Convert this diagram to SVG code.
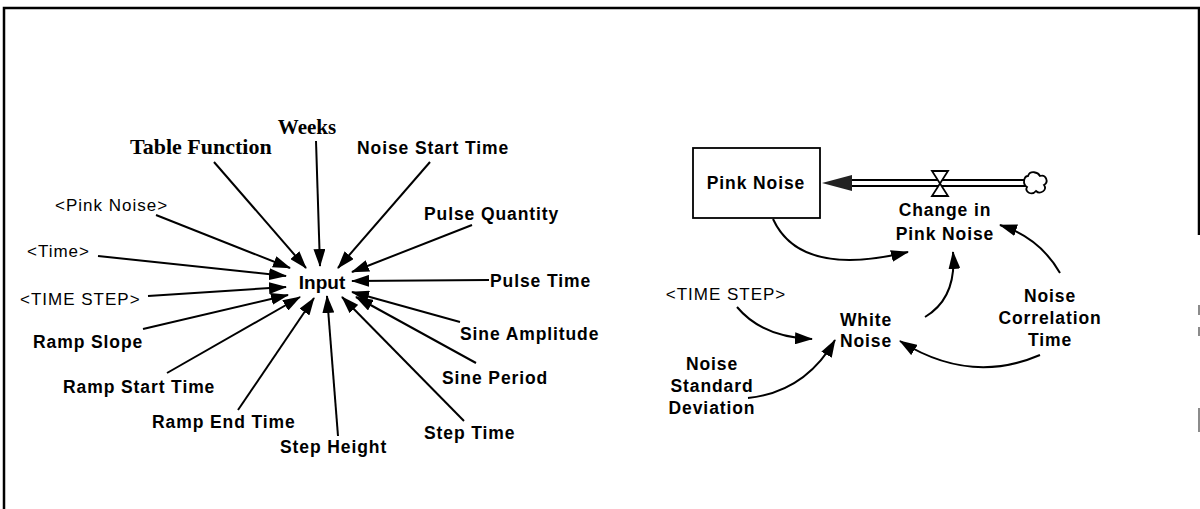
<svg xmlns="http://www.w3.org/2000/svg" width="1200" height="509" viewBox="0 0 1200 509">
<defs>
<style>
.b{font-family:"Liberation Sans",Arial,sans-serif;font-weight:bold;font-size:17.5px;letter-spacing:0.9px;fill:#000}
.n{font-family:"Liberation Sans",Arial,sans-serif;font-size:17px;letter-spacing:1px;fill:#000}
.t{font-family:"Liberation Serif","Times New Roman",serif;font-weight:bold;font-size:21px;fill:#000}
.c{fill:none;stroke:#000;stroke-width:2;marker-end:url(#ah)}
.frame{stroke:#000;stroke-width:2.5;fill:none}
</style>
<marker id="ah" markerUnits="userSpaceOnUse" markerWidth="18" markerHeight="12" refX="17" refY="6" orient="auto">
<path d="M0,0 L18,6 L0,12 Z" fill="#000"/>
</marker>
</defs>
<rect width="1200" height="509" fill="#fff"/>
<g id="frame">
<path class="frame" d="M4,509 L4,8 L1199,8 L1199,235"/>
<path d="M1199,305 V315 M1199,327 V336 M1199,408 V432" stroke="#666" stroke-width="1.5"/>
</g>
<g id="connectors">
<line class="c" x1="316" y1="141" x2="320" y2="266"/>
<line class="c" x1="214" y1="162" x2="306" y2="268"/>
<line class="c" x1="430" y1="162" x2="338" y2="268"/>
<line class="c" x1="472" y1="225" x2="352" y2="272"/>
<line class="c" x1="156" y1="215" x2="290" y2="268"/>
<line class="c" x1="98" y1="256" x2="286" y2="276"/>
<line class="c" x1="489" y1="280" x2="352" y2="281"/>
<line class="c" x1="148" y1="296" x2="286" y2="287"/>
<line class="c" x1="143" y1="329" x2="288" y2="295"/>
<line class="c" x1="460" y1="322" x2="352" y2="292"/>
<line class="c" x1="167" y1="373" x2="300" y2="297"/>
<line class="c" x1="476" y1="363" x2="356" y2="297"/>
<line class="c" x1="238" y1="410" x2="314" y2="298"/>
<line class="c" x1="464" y1="421" x2="342" y2="297"/>
<line class="c" x1="338" y1="436" x2="327" y2="296"/>
<path class="c" d="M773,219 Q800,278 908,252"/>
<path class="c" d="M925,317 Q957,298 953,252"/>
<path class="c" d="M1060,273 Q1040,238 1000,225"/>
<path class="c" d="M737,307 Q762,337 812,339"/>
<path class="c" d="M748,398 Q805,392 835,340"/>
<path class="c" d="M1040,355 Q970,385 900,341"/>
</g>
<g id="input"><text class="b" x="322" y="289" text-anchor="middle" style="font-size:19px;letter-spacing:0">Input</text></g>
<g id="weeks"><text class="t" x="307" y="134" text-anchor="middle">Weeks</text></g>
<g id="table-function"><text class="t" x="130" y="154" style="font-size:22px">Table Function</text></g>
<g id="noise-start-time"><text class="b" x="357" y="154">Noise Start Time</text></g>
<g id="pink-noise-ref"><text class="n" x="55" y="211">&lt;Pink Noise&gt;</text></g>
<g id="pulse-quantity"><text class="b" x="424" y="220">Pulse Quantity</text></g>
<g id="time-ref"><text class="n" x="27" y="257">&lt;Time&gt;</text></g>
<g id="pulse-time"><text class="b" x="490" y="287">Pulse Time</text></g>
<g id="time-step-ref"><text class="n" x="20" y="305">&lt;TIME STEP&gt;</text></g>
<g id="ramp-slope"><text class="b" x="33" y="348">Ramp Slope</text></g>
<g id="sine-amplitude"><text class="b" x="460" y="340">Sine Amplitude</text></g>
<g id="ramp-start-time"><text class="b" x="63" y="393">Ramp Start Time</text></g>
<g id="sine-period"><text class="b" x="442" y="384">Sine Period</text></g>
<g id="ramp-end-time"><text class="b" x="152" y="428">Ramp End Time</text></g>
<g id="step-time"><text class="b" x="424" y="439">Step Time</text></g>
<g id="step-height"><text class="b" x="280" y="453">Step Height</text></g>
<g id="pink-noise">
<rect x="693" y="148" width="127" height="70" fill="#fff" stroke="#000" stroke-width="1.8"/>
<text class="b" x="756" y="189" text-anchor="middle">Pink Noise</text>
</g>
<g id="flow">
<path d="M850,180 H1026 M850,186 H1026" stroke="#000" stroke-width="1.8" fill="none"/>
<path d="M822,183 L852,175 L852,191 Z" fill="#222"/>
<path d="M932,171 L948,171 L932,196 L948,196 Z" fill="#fff" stroke="#000" stroke-width="1.8"/>
</g>
<g id="cloud"><path d="M1028,176 C1030,170 1038,172 1040,176 C1046,174 1049,182 1044,185 C1048,190 1040,195 1036,191 C1032,196 1024,192 1027,187 C1022,184 1024,176 1028,176 Z" fill="#fff" stroke="#000" stroke-width="1.8"/></g>
<g id="change-in-pink-noise"><text class="b" x="945" y="216" text-anchor="middle">Change in</text><text class="b" x="945" y="240" text-anchor="middle">Pink Noise</text></g>
<g id="time-step-ref2"><text class="n" x="726" y="300" text-anchor="middle">&lt;TIME STEP&gt;</text></g>
<g id="white-noise"><text class="b" x="866" y="326" text-anchor="middle">White</text><text class="b" x="866" y="347" text-anchor="middle">Noise</text></g>
<g id="noise-correlation-time"><text class="b" x="1050" y="302" text-anchor="middle">Noise</text><text class="b" x="1050" y="324" text-anchor="middle">Correlation</text><text class="b" x="1050" y="346" text-anchor="middle">Time</text></g>
<g id="noise-standard-deviation"><text class="b" x="712" y="370" text-anchor="middle">Noise</text><text class="b" x="712" y="392" text-anchor="middle">Standard</text><text class="b" x="712" y="414" text-anchor="middle">Deviation</text></g>
</svg>
